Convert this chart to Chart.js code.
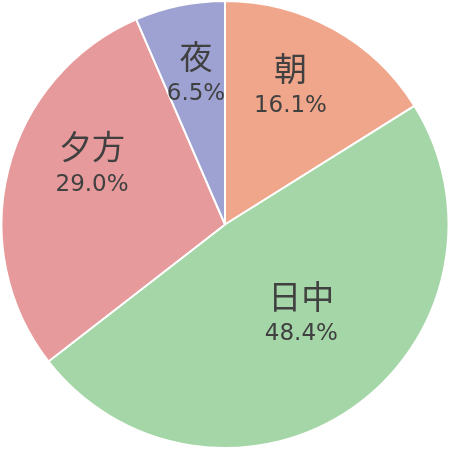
<!DOCTYPE html>
<html><head><meta charset="utf-8">
<script src="https://cdn.jsdelivr.net/npm/chart.js@4/dist/chart.umd.min.js"></script>
<style>html,body{margin:0;padding:0;background:#fff}#wrap{width:450px;height:449px}</style>
</head><body><div id="wrap"><canvas id="c"></canvas></div>
<script>
const categories = ["朝", "日中", "夕方", "夜"];
const values = [16.1, 48.4, 29.0, 6.5];
const colors = ["#f0a68b", "#a5d6a7", "#e69a9b", "#9ea2d2"];
// label placement: fraction along slice angle, fraction of radius
const labelAngleFrac = [0.44, 0.47, 0.59, 0.53];
const labelRadiusFrac = [0.68, 0.53, 0.65, 0.68];

const labelPlugin = {
  id: 'labels',
  afterDatasetsDraw(chart) {
    const ctx = chart.ctx;
    const meta = chart.getDatasetMeta(0);
    meta.data.forEach((arc, i) => {
      const p = arc.getProps(['x','y','startAngle','endAngle','outerRadius'], true);
      const a = p.startAngle + (p.endAngle - p.startAngle) * labelAngleFrac[i];
      const r = p.outerRadius * labelRadiusFrac[i];
      const cx = p.x + Math.cos(a) * r, cy = p.y + Math.sin(a) * r;
      ctx.save();
      ctx.fillStyle = '#404040';
      ctx.textAlign = 'center';
      ctx.textBaseline = 'middle';
      ctx.font = '33px "Noto Sans CJK JP"';
      ctx.fillText(categories[i], cx, cy - 19);
      ctx.font = '23px "DejaVu Sans"';
      ctx.fillText(values[i].toFixed(1) + '%', cx, cy + 19);
      ctx.restore();
    });
  }
};

new Chart(document.getElementById('c'), {
  type: 'pie',
  data: { labels: categories, datasets: [{ data: values, backgroundColor: colors, borderColor: '#ffffff', borderWidth: 2 }] },
  options: {
    responsive: true, maintainAspectRatio: false, animation: false,
    layout: { padding: 0 },
    plugins: { legend: { display: false }, tooltip: { enabled: false } }
  },
  plugins: [labelPlugin]
});
</script></body></html>
